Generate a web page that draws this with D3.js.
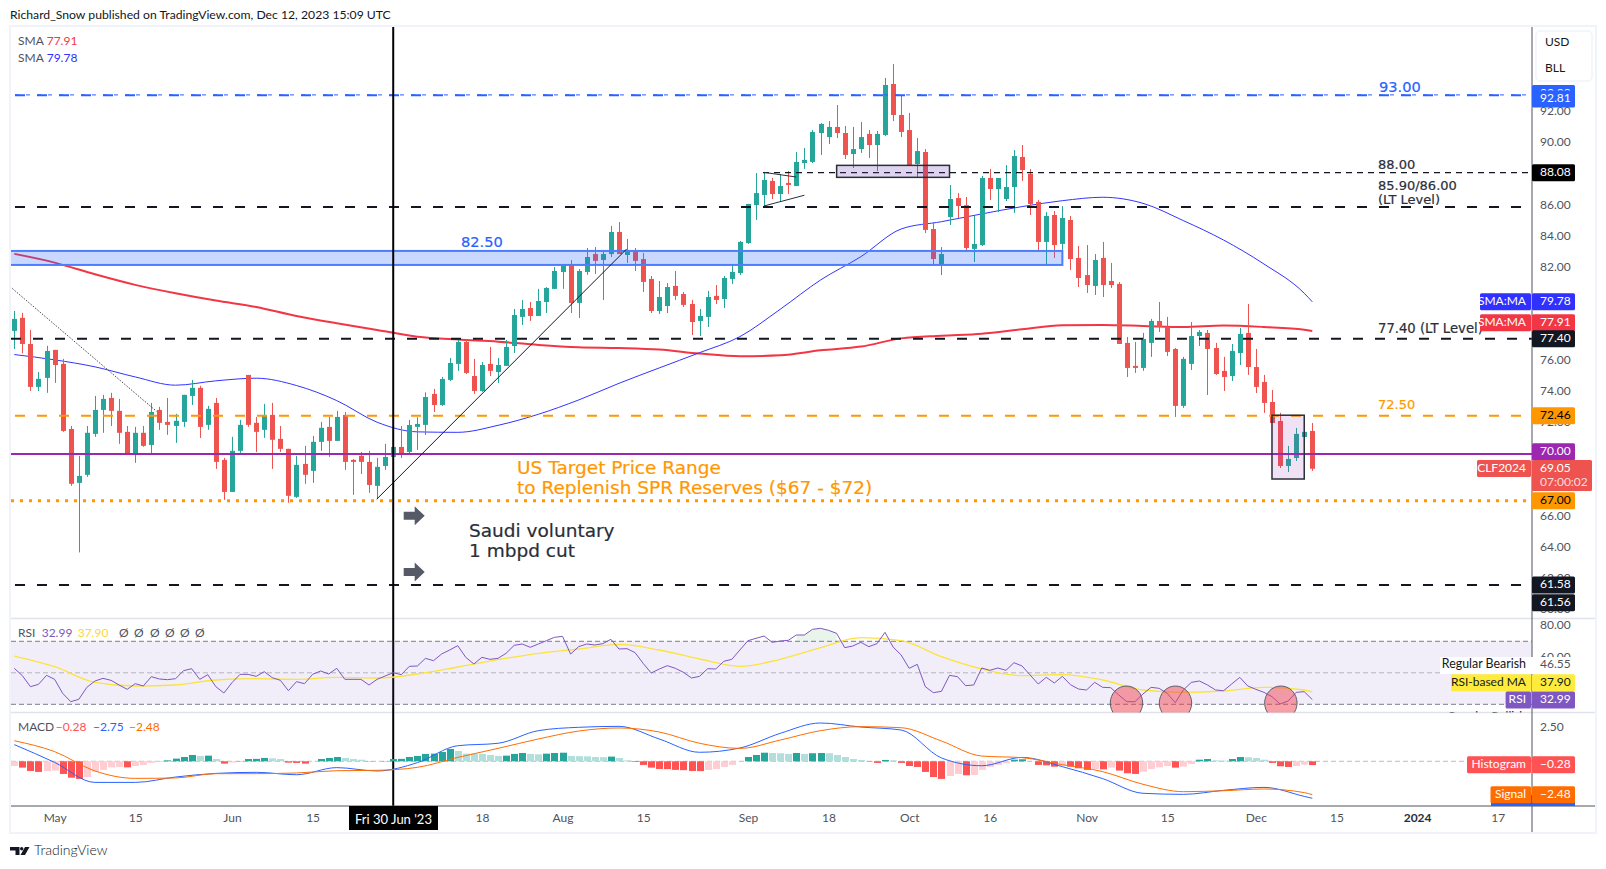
<!DOCTYPE html>
<html>
<head>
<meta charset="utf-8">
<title>CLF2024</title>
<script src="https://cdn.jsdelivr.net/npm/d3@7/dist/d3.min.js"></script>
<style>
  html, body { margin: 0; padding: 0; background: #fff; }
  svg { display: block; }
  text { font-family: "Lato", sans-serif; }
  .note { font-family: "DejaVu Sans", sans-serif; }
</style>
</head>
<body>
<div id="chart"></div>
<script>
// daily candles
const opens = [77.91,78.75,77.07,74.31,74.89,76.69,75.79,71.61,68.14,68.66,71.29,72.83,73.60,72.77,71.42,70.00,71.36,70.58,72.83,72.06,
  71.80,72.06,73.73,74.25,71.87,73.28,69.62,67.56,70.20,75.08,72.00,71.55,72.51,70.97,70.33,67.24,69.36,68.91,70.78,71.74,
  70.84,72.51,69.62,69.88,69.49,67.95,69.23,69.81,70.45,70.13,71.74,71.87,73.86,73.15,74.76,75.79,77.20,75.01,74.05,75.79,
  75.27,75.66,76.94,78.81,79.38,78.87,79.77,80.61,81.70,82.15,79.71,81.70,82.85,82.47,82.85,84.27,82.79,83.05,82.53,81.25,
  79.19,79.51,80.80,80.28,79.64,78.55,78.81,80.16,79.96,81.25,81.63,83.56,86.00,86.65,87.55,86.71,87.42,87.22,88.70,88.77,
  90.63,90.37,91.02,90.63,89.28,89.60,90.57,89.86,90.50,93.78,91.79,90.82,88.64,89.41,84.46,82.21,85.23,86.45,85.99,83.18,
  83.43,87.74,87.03,86.39,87.16,89.09,88.00,86.20,83.63,85.36,83.50,85.04,82.60,81.50,80.80,82.60,81.12,80.93,77.14,75.66,
  75.53,77.14,78.55,78.16,76.75,73.09,75.79,77.58,77.78,76.81,75.34,75.01,76.49,77.78,75.59,74.63,73.34,72.12,69.23,69.74,
  71.09,71.48];
const highs = [79.19,79.07,77.97,75.27,76.95,76.69,76.11,71.80,69.88,71.80,73.73,73.80,73.93,73.54,71.80,71.74,71.80,73.28,73.03,73.60,
  72.58,73.80,74.76,74.38,73.09,73.60,69.75,71.10,72.19,75.08,72.38,73.22,73.28,71.80,70.33,69.88,70.52,71.16,72.06,72.38,
  72.77,72.70,69.68,70.13,70.20,69.75,70.65,70.55,71.80,72.19,72.36,73.96,74.18,74.95,76.17,77.39,77.39,76.11,75.91,76.88,
  76.17,77.33,79.32,79.90,79.77,80.61,80.73,82.02,82.21,82.47,81.89,83.24,83.30,83.11,84.65,84.91,83.82,83.24,82.92,81.44,
  81.12,80.99,81.76,80.41,79.90,79.32,80.48,80.86,81.44,82.08,83.69,86.07,88.06,88.12,87.74,88.00,88.19,89.41,89.67,90.82,
  91.27,91.40,92.43,91.08,91.02,91.34,90.82,90.76,94.17,95.07,93.07,91.92,90.31,89.60,84.91,83.30,87.29,86.77,86.52,85.30,
  87.87,88.32,87.74,88.57,89.54,89.86,88.32,86.33,85.55,85.62,85.94,85.30,83.37,83.43,82.85,83.63,82.28,81.05,77.52,77.20,
  77.78,78.68,79.77,78.81,76.81,76.24,78.48,77.97,77.97,77.14,76.24,77.07,78.10,79.64,76.75,75.08,74.11,72.64,70.52,71.67,
  71.42,71.99];
const lows = [76.75,76.47,74.05,74.05,73.93,74.57,71.42,67.95,63.67,68.53,71.10,71.36,71.80,70.65,69.94,69.43,70.46,70.00,71.55,71.23,
  70.71,71.74,73.15,71.03,71.55,69.04,67.05,67.56,70.07,71.74,70.13,71.03,69.04,70.13,66.86,67.18,68.08,68.14,70.20,69.81,
  70.84,68.98,67.37,68.72,67.50,67.09,68.98,69.70,69.74,70.06,70.26,71.22,72.70,73.09,74.69,75.34,75.14,73.86,73.99,75.01,
  74.56,75.66,76.49,78.29,78.55,78.87,79.06,80.61,80.61,79.06,78.74,81.51,81.57,79.90,82.66,82.85,82.28,81.76,80.41,79.06,
  79.00,79.06,79.90,79.45,77.65,77.58,78.16,79.64,79.38,80.93,81.51,83.50,85.04,85.88,86.39,86.20,86.71,87.22,88.32,88.70,
  89.22,89.92,90.31,88.96,88.38,89.35,89.02,88.19,90.44,91.40,90.37,88.57,87.80,84.20,82.15,81.50,84.72,85.17,83.11,82.34,
  83.37,86.33,85.55,86.26,85.49,87.55,85.36,82.98,82.08,82.60,83.05,81.83,80.73,80.35,80.22,80.09,80.67,77.07,74.95,75.21,
  75.34,76.24,77.84,76.30,72.38,72.96,75.40,76.94,73.79,75.08,74.05,74.69,75.72,75.08,73.92,72.64,71.99,69.10,68.84,69.55,
  71.09,68.91];
const closes = [78.68,77.07,74.31,74.83,76.62,75.72,71.48,68.08,68.59,71.36,72.83,73.54,72.77,71.36,70.00,71.36,70.52,72.70,72.00,71.87,
  72.13,73.80,74.25,71.74,72.90,69.49,67.56,70.20,71.87,71.87,71.42,72.51,70.91,70.33,67.31,69.30,68.66,70.78,71.68,70.84,
  72.38,69.49,69.49,69.49,68.01,69.17,69.81,70.45,70.00,71.86,71.93,73.66,73.15,74.82,75.85,77.20,75.21,74.05,75.72,75.34,
  75.72,76.88,78.93,79.32,78.87,79.83,80.67,81.76,82.21,79.71,81.76,82.66,82.41,82.85,84.27,82.85,83.05,82.41,81.06,79.19,
  80.09,80.73,80.16,79.58,78.48,78.87,80.09,79.90,81.31,81.70,83.63,86.07,86.77,87.61,86.71,87.22,87.29,88.77,88.90,90.70,
  91.21,91.02,90.63,89.22,89.60,90.37,89.86,90.57,93.72,91.79,90.70,88.57,89.47,84.40,82.53,82.85,86.39,85.94,83.24,83.50,
  87.74,87.03,87.74,87.16,89.15,88.25,86.07,83.63,85.30,83.43,85.17,82.53,81.31,80.86,82.47,80.86,80.86,77.07,75.53,75.53,
  77.39,78.55,78.16,76.56,73.09,76.11,77.58,77.84,76.75,75.14,74.95,76.62,77.71,75.59,74.31,73.28,71.99,69.23,69.68,71.29,
  71.42,69.05];

// moving averages, read every five bars
const smaBars = [0,5,10,15,20,25,30,35,40,45,50,55,60,65,70,75,80,85,90,95,100,105,110,115,120,125,130,135,140,145,150,155,160,161];
const sma200 = [82.86,82.30,81.55,80.87,80.33,79.86,79.45,78.87,78.40,77.97,77.54,77.35,77.22,77.01,76.86,76.81,76.71,76.45,76.28,76.34,76.66,76.90,77.43,77.60,77.73,78.01,78.27,78.29,78.23,78.16,78.25,78.16,77.99,77.91];
const sma50 = [76.39,76.05,75.60,74.95,74.42,74.70,74.87,74.40,73.43,72.04,71.42,71.39,71.84,72.55,73.47,74.54,75.53,76.51,77.54,79.30,81.18,82.68,84.46,84.93,85.43,85.90,86.28,86.50,86.11,85.00,83.75,82.21,80.33,79.78];

// RSI pane
const rsiValues = [52.83,48.18,41.19,42.67,48.39,45.85,36.96,31.67,33.15,40.77,44.79,46.48,45.22,42.25,39.50,43.10,41.62,47.54,46.06,45.64,
  46.27,51.35,52.62,45.85,48.81,41.19,37.17,43.73,49.02,49.02,47.75,50.72,46.91,45.22,38.65,44.37,43.10,49.02,51.14,49.24,
  52.83,45.85,45.85,45.85,42.25,45.85,47.97,50.08,48.81,54.10,54.32,59.18,57.70,61.93,64.47,67.23,59.82,55.59,59.82,58.55,
  59.18,62.36,67.44,68.28,66.17,68.28,70.40,72.52,73.15,61.93,66.59,68.28,67.65,68.50,71.25,65.11,65.32,62.78,56.01,49.87,
  52.41,54.53,52.83,50.29,46.70,47.75,52.62,52.41,57.28,58.55,64.47,70.40,71.88,73.36,69.34,70.19,70.61,74.00,74.00,77.60,
  78.23,76.96,75.06,65.96,67.01,69.34,66.59,68.50,75.69,66.38,61.30,52.83,55.37,41.19,37.38,38.23,48.39,47.54,41.83,42.25,
  53.05,51.56,53.05,51.56,56.43,54.32,48.60,42.89,47.12,43.52,47.75,42.46,39.71,39.08,43.94,40.77,40.56,35.90,31.67,31.67,
  36.54,40.77,40.14,36.96,31.03,39.08,43.94,44.79,42.25,39.08,38.65,42.89,47.12,41.62,39.50,37.60,34.84,30.19,32.09,37.60,
  38.02,32.99];
const rsiMaBars = [0,5,10,15,20,25,30,35,40,45,50,55,60,65,70,75,80,85,90,95,100,105,110,115,120,125,130,135,140,145,150,155,160,161];
const rsiMa = [60.66,53.89,43.95,41.62,42.25,45.43,46.27,45.85,47.12,46.70,49.24,53.68,58.34,62.36,65.11,68.07,64.47,58.76,54.10,58.55,65.96,72.30,70.40,60.24,52.41,48.18,48.81,45.43,39.08,37.60,38.44,40.77,39.08,37.90];
const rsiTicks = [80, 60];

// MACD pane
const macdHist = [-0.35,-0.47,-0.72,-0.79,-0.72,-0.69,-0.94,-1.22,-1.31,-1.17,-0.77,-0.64,-0.45,-0.42,-0.45,-0.35,-0.27,-0.12,-0.05,0.07,
  0.20,0.32,0.47,0.40,0.42,0.17,-0.17,-0.10,0.02,0.17,0.18,0.25,0.22,0.17,-0.10,-0.12,-0.17,-0.02,0.17,0.25,
  0.32,0.25,0.17,0.12,-0.02,-0.01,0.02,0.17,0.18,0.32,0.40,0.55,0.57,0.69,0.92,0.77,0.57,0.56,0.55,0.47,
  0.40,0.42,0.55,0.62,0.55,0.52,0.57,0.62,0.64,0.40,0.38,0.37,0.32,0.31,0.35,0.25,0.07,-0.05,-0.27,-0.47,
  -0.57,-0.58,-0.64,-0.66,-0.72,-0.73,-0.64,-0.57,-0.42,-0.27,0,0.32,0.47,0.64,0.62,0.60,0.55,0.62,0.55,0.60,
  0.62,0.60,0.47,0.32,0.17,0.10,-0.02,-0.12,0.10,0.07,-0.12,-0.35,-0.42,-0.79,-1.17,-1.31,-1.09,-0.94,-1.04,-1.02,
  -0.64,-0.42,-0.27,-0.15,0.12,0.15,0,-0.27,-0.30,-0.40,-0.35,-0.40,-0.52,-0.64,-0.57,-0.60,-0.47,-0.69,-0.89,-0.94,
  -0.77,-0.57,-0.45,-0.35,-0.47,-0.40,-0.20,0.12,0.17,0.07,0.05,0.17,0.32,0.30,0.25,0.12,-0.12,-0.37,-0.42,-0.35,
  -0.25,-0.28];
const macdBars = [0,5,10,15,20,25,30,35,40,45,50,55,60,65,70,75,80,85,90,95,100,105,110,115,120,125,130,135,140,145,150,155,160,161];
const macdLine = [1.24,-0.08,-1.57,-1.57,-1.17,-0.90,-0.82,-1.00,-0.47,-0.72,-0.10,1.16,1.34,2.28,2.53,2.60,1.66,0.67,0.99,2.08,2.85,2.55,2.33,0.25,-0.33,0.29,-0.40,-1.29,-2.38,-2.46,-2.16,-1.94,-2.61,-2.75];
const signalLine = [1.53,0.72,-0.72,-1.27,-1.24,-0.92,-0.92,-0.87,-0.70,-0.67,-0.45,0.29,0.96,1.66,2.25,2.48,2.18,1.34,0.96,1.58,2.28,2.58,2.50,1.51,0.39,0.27,-0.25,-0.77,-1.71,-2.26,-2.19,-2.06,-2.33,-2.48];

// ticks hidden behind the price tags are left out
const priceTicks = [92,90,86,84,82,76,74,72,66,64,62,60];
const timeTickBars = [5,15,27,37,47,58,68,78,91,101,111,121,133,143,154,164,174,184];
const timeTickLabels = ['May','15','Jun','15','','18','Aug','15','Sep','18','Oct','16','Nov','15','Dec','15','2024','17'];

const width = 1606, height = 869;
const plotLeft = 11, axisX = 1532, frameRight = 1596;
const mainTop = 27, mainBottom = 618.5, rsiBottom = 712.5, macdBottom = 806, frameBottom = 833;

const x = d3.scaleLinear().domain([0, 161]).range([14.3, 1312.3]);
const y = d3.scaleLinear().domain([92, 64]).range([111.7, 547.3]);
const yRsi = d3.scaleLinear().domain([70, 30]).range([641.3, 704.3]);
const yMacd = d3.scaleLinear().domain([2.5, 0]).range([727.7, 761.3]);
const sx = (i) => Math.round(x(i));

const GREEN = '#26a69a', RED = '#ef5350', TEXT = '#50535e', DARK = '#131722';

const svg = d3.select('#chart').append('svg').attr('width', width).attr('height', height).attr('viewBox', [0, 0, width, height]);
const defs = svg.append('defs');
const clip = (id, x0, y0, x1, y1) => defs.append('clipPath').attr('id', id).append('rect').attr('x', x0).attr('y', y0).attr('width', x1 - x0).attr('height', y1 - y0);
clip('clip-main', plotLeft, mainTop, axisX, mainBottom);
clip('clip-rsi', plotLeft, mainBottom, axisX, rsiBottom);
clip('clip-macd', plotLeft, rsiBottom, axisX, macdBottom);
clip('clip-rsi-all', 0, mainBottom + 1, frameRight, rsiBottom);
clip('clip-macd-all', 0, rsiBottom, frameRight, macdBottom);

// frame and pane separators
svg.append('rect').attr('x', 10).attr('y', 26).attr('width', frameRight - 10).attr('height', frameBottom - 26)
  .attr('fill', '#fff').attr('stroke', '#f0f3fa').attr('stroke-width', 2);
[mainBottom, rsiBottom].forEach((py) => {
  svg.append('line').attr('x1', 11).attr('x2', frameRight - 1).attr('y1', py).attr('y2', py).attr('stroke', '#e0e3eb').attr('stroke-width', 1.5);
});

svg.append('text').attr('x', 10).attr('y', 19).attr('font-size', 12.2).attr('fill', DARK)
  .text('Richard_Snow published on TradingView.com, Dec 12, 2023 15:09 UTC');

// ---- main pane ----
const main = svg.append('g').attr('clip-path', 'url(#clip-main)');

const smaLine = (bars) => d3.line().x((d, i) => x(bars[i])).y((d) => y(d)).curve(d3.curveMonotoneX);
main.append('path').attr('d', smaLine(smaBars)(sma200)).attr('fill', 'none').attr('stroke', '#f23645').attr('stroke-width', 2);
main.append('path').attr('d', smaLine(smaBars)(sma50)).attr('fill', 'none').attr('stroke', '#3333ff').attr('stroke-width', 1);

const candles = main.append('g').selectAll('g').data(opens).join('g')
  .attr('fill', (d, i) => (closes[i] >= opens[i] ? GREEN : RED));
candles.append('rect')
  .attr('x', (d, i) => sx(i))
  .attr('width', 1)
  .attr('y', (d, i) => y(highs[i]))
  .attr('height', (d, i) => y(lows[i]) - y(highs[i]));
candles.append('rect')
  .attr('x', (d, i) => sx(i) - 2)
  .attr('width', 5)
  .attr('y', (d, i) => y(Math.max(opens[i], closes[i])))
  .attr('height', (d, i) => Math.max(1.5, Math.abs(y(opens[i]) - y(closes[i]))));

// drawn levels
const levelRow = (p, x0, colour, w, dash) => {
  main.append('line').attr('x1', x0).attr('x2', axisX).attr('y1', y(p)).attr('y2', y(p))
    .attr('stroke', colour).attr('stroke-width', w).attr('stroke-dasharray', dash);
};
levelRow(93.08, 15, '#2962ff', 1, '4 7');
levelRow(93.05, 15, '#2962ff', 2, '10 12');
levelRow(88.08, 763, '#131722', 1.3, '6 5');
levelRow(85.88, 15, '#131722', 2, '10 12');
levelRow(77.40, 11, '#131722', 2, '10 12');
levelRow(72.46, 15, '#ff9800', 2, '10 12');
levelRow(70.00, 11, '#9c27b0', 2, null);
levelRow(67.00, 11, '#ff9800', 3, '3 6');
levelRow(61.58, 15, '#131722', 2, '10 12');

// boxes
main.append('rect').attr('x', x(-2)).attr('width', x(130) - x(-2)).attr('y', y(83.05)).attr('height', y(82.15) - y(83.05))
  .attr('fill', 'rgba(41,98,255,0.25)').attr('stroke', '#4d7dff').attr('stroke-width', 2);
main.append('rect').attr('x', x(102)).attr('width', x(116) - x(102)).attr('y', y(88.55)).attr('height', y(87.78) - y(88.55))
  .attr('fill', 'rgba(103,58,183,0.22)').attr('stroke', '#2a2e39').attr('stroke-width', 1.5);
main.append('rect').attr('x', x(156)).attr('width', x(160) - x(156)).attr('y', y(72.49)).attr('height', y(68.39) - y(72.49))
  .attr('fill', 'rgba(156,39,176,0.14)').attr('stroke', '#2a2e39').attr('stroke-width', 1.5);

// trend lines
const trend = (i0, p0, i1, p1, colour, dash) => {
  main.append('line').attr('x1', x(i0)).attr('y1', y(p0)).attr('x2', x(i1)).attr('y2', y(p1))
    .attr('stroke', colour).attr('stroke-width', 1).attr('stroke-dasharray', dash);
};
trend(-0.53, 80.76, 17.66, 72.73, '#434651', '1.5 1.5');
trend(44.95, 67.09, 75.96, 83.18, '#131722', null);
trend(93, 88.10, 97, 87.80, '#2a2e39', null);
trend(93, 85.94, 98, 86.63, '#2a2e39', null);

// notes on the chart
const note = (px, py, str, size, colour) => {
  svg.append('text').attr('class', 'note').attr('x', px).attr('y', py).attr('dy', '0.36em')
    .attr('font-size', size).attr('fill', colour).attr('stroke', colour).attr('stroke-width', 0.2).text(str);
};
note(1379, 86.7, '93.00', 14.6, '#2962ff');
note(1378, 164, '88.00', 13, '#2a2e39');
note(1378, 185, '85.90/86.00', 13, '#2a2e39');
note(1378, 199.5, '(LT Level)', 13, '#2a2e39');
note(1378, 328.3, '77.40 (LT Level)', 13.2, '#2a2e39');
note(1378, 404, '72.50', 13, '#ff9800');
note(461, 241.7, '82.50', 14.6, '#2962ff');
note(517, 467.6, 'US Target Price Range', 18.5, '#ff9800');
note(517, 487.5, 'to Replenish SPR Reserves ($67 - $72)', 18.5, '#ff9800');
note(469, 530, 'Saudi voluntary', 18.5, '#2a2e39');
note(469, 550.5, '1 mbpd cut', 18.5, '#2a2e39');

// the two block arrows
[[48.3, 66.02], [48.3, 62.42]].forEach(([i, p]) => {
  svg.append('path').attr('transform', `translate(${x(i)},${y(p)})`)
    .attr('d', 'M0,-4 H11 V-9.5 L21,0 L11,9.5 V4 H0 Z').attr('fill', '#555a66');
});

// vertical marker at 30 Jun
svg.append('line').attr('x1', x(47)).attr('x2', x(47)).attr('y1', 27).attr('y2', macdBottom).attr('stroke', '#000').attr('stroke-width', 2);

// ---- RSI pane ----
const rsiPane = svg.append('g').attr('clip-path', 'url(#clip-rsi)');
rsiPane.append('rect').attr('x', plotLeft).attr('width', axisX - plotLeft).attr('y', yRsi(70)).attr('height', yRsi(30) - yRsi(70)).attr('fill', 'rgba(126,87,194,0.1)');
[[70, 1], [50, 0.5], [30, 1]].forEach(([v, o]) => {
  rsiPane.append('line').attr('x1', plotLeft).attr('x2', axisX).attr('y1', yRsi(v)).attr('y2', yRsi(v))
    .attr('stroke', '#787b86').attr('stroke-opacity', o).attr('stroke-dasharray', '5 3');
});
const overbought = d3.range(97, 103);
rsiPane.append('path').datum(overbought)
  .attr('d', d3.area().x((i) => x(i)).y0(yRsi(70)).y1((i) => yRsi(rsiValues[i])))
  .attr('fill', 'rgba(76,175,80,0.12)');
rsiPane.append('path').attr('fill', 'none').attr('stroke', '#fbe33c').attr('stroke-width', 1.3)
  .attr('d', d3.line().x((d, i) => x(rsiMaBars[i])).y((d) => yRsi(d)).curve(d3.curveMonotoneX)(rsiMa));
rsiPane.append('path').attr('fill', 'none').attr('stroke', '#7e57c2').attr('stroke-width', 1)
  .attr('d', d3.line().x((d, i) => x(i)).y((d) => yRsi(d))(rsiValues));
[137.95, 144.03, 157.1].forEach((i) => {
  rsiPane.append('ellipse').attr('cx', x(i)).attr('cy', 703).attr('rx', 16.2).attr('ry', 17)
    .attr('fill', 'rgba(239,68,80,0.5)').attr('stroke', '#5d606b').attr('stroke-width', 1);
});

// ---- MACD pane ----
const macdPane = svg.append('g').attr('clip-path', 'url(#clip-macd)');
macdPane.append('line').attr('x1', plotLeft).attr('x2', axisX).attr('y1', yMacd(0)).attr('y2', yMacd(0))
  .attr('stroke', '#787b86').attr('stroke-opacity', 0.5).attr('stroke-dasharray', '5 3');
const histColour = (v, prev) => {
  if (v >= 0) return v >= prev ? '#26a69a' : '#b2dfdb';
  return v <= prev ? '#ff5252' : '#ffcdd2';
};
macdPane.selectAll('rect.hist').data(macdHist).join('rect').attr('class', 'hist')
  .attr('x', (d, i) => sx(i) - 3)
  .attr('width', 7)
  .attr('y', (d) => Math.min(yMacd(d), yMacd(0)))
  .attr('height', (d) => Math.abs(yMacd(d) - yMacd(0)))
  .attr('fill', (d, i) => histColour(d, i ? macdHist[i - 1] : d - 1));
const macdPath = d3.line().x((d, i) => x(macdBars[i])).y((d) => yMacd(d)).curve(d3.curveMonotoneX);
macdPane.append('path').attr('d', macdPath(macdLine)).attr('fill', 'none').attr('stroke', '#2962ff').attr('stroke-width', 1);
macdPane.append('path').attr('d', macdPath(signalLine)).attr('fill', 'none').attr('stroke', '#ff6d00').attr('stroke-width', 1);

// ---- axes ----
const styleAxis = (g) => {
  g.select('.domain').remove();
  g.selectAll('.tick line').remove();
  g.selectAll('text').attr('fill', TEXT).attr('font-size', 12).attr('font-family', 'Lato, sans-serif');
};
const rightAxis = (scale, ticks) => (g) => {
  g.attr('transform', `translate(${axisX},0)`)
    .call(d3.axisRight(scale).tickValues(ticks).tickSize(0).tickPadding(8).tickFormat(d3.format('.2f')))
    .call(styleAxis);
  g.selectAll('text').attr('dy', '0.25em');
};
svg.append('g').call(rightAxis(y, priceTicks));
svg.append('g').attr('clip-path', 'url(#clip-rsi-all)').call(rightAxis(yRsi, rsiTicks));
svg.append('g').call(rightAxis(yMacd, [2.5]));

svg.append('g').attr('transform', `translate(0,${macdBottom + 4})`)
  .call(d3.axisBottom(x).tickValues(timeTickBars).tickSize(0).tickPadding(3).tickFormat((d, i) => timeTickLabels[i]))
  .call(styleAxis)
  .selectAll('text').filter((d, i) => timeTickLabels[i] === '2024').attr('font-weight', 700).attr('fill', '#2a2e39');

svg.append('line').attr('x1', axisX).attr('x2', axisX).attr('y1', 27).attr('y2', frameBottom - 1).attr('stroke', '#50535e');
svg.append('line').attr('x1', 11).attr('x2', frameRight - 1).attr('y1', macdBottom).attr('y2', macdBottom).attr('stroke', '#50535e');

// date tag
svg.append('rect').attr('x', 349).attr('y', macdBottom).attr('width', 89).attr('height', 24).attr('fill', '#000');
svg.append('text').attr('x', x(47) + 0.3).attr('y', 819).attr('dy', '0.36em').attr('text-anchor', 'middle')
  .attr('fill', '#fff').attr('font-size', 13).text("Fri 30 Jun '23");

// ---- price tags ----
const tag = (py, str, bg, fg) => {
  svg.append('rect').attr('x', axisX).attr('y', py - 8.5).attr('width', 43).attr('height', 17).attr('rx', 1.5).attr('fill', bg);
  svg.append('text').attr('x', axisX + 8).attr('y', py).attr('dy', '0.28em').attr('font-size', 12).attr('fill', fg).text(str);
};
const sideTag = (py, x0, str, bg, fg) => {
  svg.append('rect').attr('x', x0).attr('y', py - 8.5).attr('width', axisX - 1 - x0).attr('height', 17).attr('rx', 1.5).attr('fill', bg);
  svg.append('text').attr('x', axisX - 6).attr('y', py).attr('dy', '0.28em').attr('text-anchor', 'end').attr('font-size', 12).attr('fill', fg).text(str);
};

// USD box covers the top of the axis
svg.append('rect').attr('x', axisX + 1).attr('y', 27).attr('width', frameRight - axisX - 2).attr('height', 58).attr('fill', '#fff');
svg.append('rect').attr('x', 1536).attr('y', 31).attr('width', 56).attr('height', 50).attr('rx', 4).attr('fill', '#fff').attr('stroke', '#f0f3fa').attr('stroke-width', 1.5);
svg.append('text').attr('x', 1545).attr('y', 43).attr('dy', '0.28em').attr('font-size', 12).attr('fill', DARK).text('USD');
svg.append('text').attr('x', 1545).attr('y', 69).attr('dy', '0.28em').attr('font-size', 12).attr('fill', DARK).text('BLL');

tag(93.5, '92.88', '#2962ff', '#fff');
tag(y(92.81), '92.81', '#2962ff', '#fff');
tag(y(88.08), '88.08', '#000', '#fff');
tag(y(79.78), '79.78', '#3030ff', '#fff');
sideTag(y(79.78), 1480, 'SMA:MA', '#3030ff', '#fff');
tag(322.7, '77.91', '#f23645', '#fff');
sideTag(322.7, 1480, 'SMA:MA', '#f23645', '#fff');
tag(y(77.40), '77.40', DARK, '#fff');
tag(y(72.46), '72.46', '#ff9800', '#000');
tag(451.7, '70.00', '#9c27b0', '#fff');

svg.append('rect').attr('x', axisX).attr('y', 460).attr('width', 60).attr('height', 31).attr('rx', 1.5).attr('fill', '#ef5350');
svg.append('text').attr('x', axisX + 8).attr('y', y(69.05)).attr('dy', '0.28em').attr('font-size', 12).attr('fill', '#fff').text('69.05');
svg.append('text').attr('x', axisX + 8).attr('y', 482.5).attr('dy', '0.28em').attr('font-size', 12).attr('fill', '#fff').attr('fill-opacity', 0.8).text('07:00:02');
sideTag(468.5, 1477, 'CLF2024', '#ef5350', '#fff');

tag(y(67), '67.00', '#ff9800', '#000');
tag(y(61.58), '61.58', DARK, '#fff');
tag(602.7, '61.56', DARK, '#fff');

// RSI tags
svg.append('rect').attr('x', 1440).attr('y', 657).attr('width', 135).attr('height', 17).attr('fill', '#fff');
svg.append('text').attr('x', 1526).attr('y', 665).attr('dy', '0.28em').attr('text-anchor', 'end').attr('font-size', 12.4).attr('fill', DARK).text('Regular Bearish');
svg.append('text').attr('x', axisX + 8).attr('y', 665).attr('dy', '0.28em').attr('font-size', 12).attr('fill', TEXT).text('46.55');
sideTag(682.7, 1451, 'RSI-based MA', '#ffeb3b', DARK);
tag(682.7, '37.90', '#ffeb3b', DARK);
sideTag(700, 1505.6, 'RSI', '#7e57c2', '#fff');
tag(700, '32.99', '#7e57c2', '#fff');
svg.append('g').attr('clip-path', 'url(#clip-rsi-all)').append('text').attr('x', 1526).attr('y', 716.5).attr('dy', '0.28em')
  .attr('text-anchor', 'end').attr('font-size', 12).attr('fill', DARK).text('Regular Bullish');

// MACD tags
sideTag(764.7, 1467, 'Histogram', '#ff5252', '#fff');
tag(764.7, '\u22120.28', '#ff5252', '#fff');
const macdClip = svg.append('g').attr('clip-path', 'url(#clip-macd-all)');
macdClip.append('rect').attr('x', 1491).attr('y', 795).attr('width', 84).attr('height', 17).attr('rx', 1.5).attr('fill', '#2962ff');
sideTag(794.7, 1490.5, 'Signal', '#ff6d00', '#fff');
tag(794.7, '\u22122.48', '#ff6d00', '#fff');

// ---- legends ----
const legend = (py, items) => {
  items.forEach(([px, str, colour]) => {
    svg.append('text').attr('x', px).attr('y', py).attr('dy', '0.28em').attr('font-size', 12).attr('fill', colour).text(str);
  });
};
legend(41.7, [[18, 'SMA', TEXT], [46.7, '77.91', '#f23645']]);
legend(58.7, [[18, 'SMA', TEXT], [46.7, '79.78', '#3030ff']]);
legend(633.3, [[18, 'RSI', TEXT], [41.7, '32.99', '#7e57c2'], [77.7, '37.90', '#fdd835'],
  [119, '\u00d8', TEXT], [134, '\u00d8', TEXT], [150, '\u00d8', TEXT], [165, '\u00d8', TEXT], [180, '\u00d8', TEXT], [195, '\u00d8', TEXT]]);
legend(727.7, [[18, 'MACD', TEXT], [55.7, '\u22120.28', '#ff5252'], [93, '\u22122.75', '#2962ff'], [129, '\u22122.48', '#ff6d00']]);

// ---- logo ----
svg.append('path').attr('fill', DARK)
  .attr('d', 'M10,847 H19.5 V855 H15.5 V850.5 H10 Z M25,847 H29.5 L25,855 H20.5 Z');
svg.append('circle').attr('cx', 21.7).attr('cy', 848.7).attr('r', 1.7).attr('fill', DARK);
svg.append('text').attr('x', 34).attr('y', 851).attr('dy', '0.3em').attr('font-size', 14).attr('fill', DARK).attr('font-weight', 300).text('TradingView');
</script>
</body>
</html>
